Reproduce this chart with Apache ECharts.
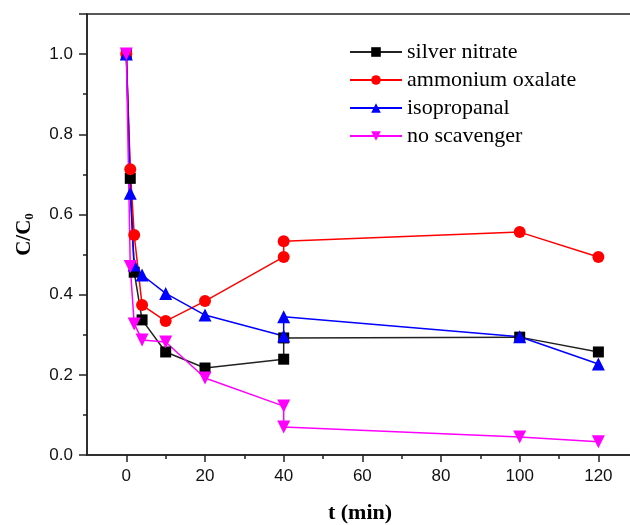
<!DOCTYPE html>
<html>
<head>
<meta charset="utf-8">
<script src="https://cdn.jsdelivr.net/npm/echarts@6/dist/echarts.min.js"></script>
<style>
  html, body { margin: 0; padding: 0; background: #fff; }
  #main { width: 630px; height: 525px; }
</style>
</head>
<body>
<div id="main"></div>
<script>
// sampling times (min), the 40 min point appears twice in every series
var silverT = [0, 1, 2, 4, 10, 20, 40, 40, 100, 120];
var silverV = [1.0, 0.69, 0.456, 0.337, 0.257, 0.217, 0.239, 0.292, 0.294, 0.257];
var oxalateT = [0, 1, 2, 4, 10, 20, 40, 40, 100, 120];
var oxalateV = [1.0, 0.713, 0.549, 0.374, 0.334, 0.384, 0.494, 0.533, 0.556, 0.494];
var isoT = [0, 1, 2, 4, 10, 20, 40, 40, 100, 120];
var isoV = [1.0, 0.653, 0.474, 0.449, 0.403, 0.349, 0.297, 0.345, 0.295, 0.227];
var noneT = [0, 1, 2, 4, 10, 20, 40, 40, 100, 120];
var noneV = [1.0, 0.47, 0.327, 0.287, 0.282, 0.192, 0.122, 0.07, 0.045, 0.033];

var seriesNames = ['silver nitrate', 'ammonium oxalate', 'isopropanal', 'no scavenger'];
var xTicks = [0, 20, 40, 60, 80, 100, 120];
var xMinorTicks = [10, 30, 50, 70, 90, 110];

function pairs(t, v) {
    var out = [];
    for (var i = 0; i < t.length; i++) {
        out.push([t[i], v[i]]);
    }
    return out;
}

var myChart = echarts.init(document.getElementById('main'));
var axisColor = '#222';

myChart.setOption({
    animation: false,
    backgroundColor: '#fff',
    grid: {
        left: 87, right: -3, top: 14, bottom: 70,
        outerBoundsMode: 'none',
        show: true, borderColor: axisColor, borderWidth: 1.5
    },
    legend: {
        data: seriesNames,
        orient: 'vertical',
        left: 344,
        top: 36,
        itemWidth: 52,
        itemHeight: 12,
        itemGap: 6,
        textStyle: { fontFamily: 'Liberation Serif', fontSize: 22, color: '#000' }
    },
    xAxis: [{
        type: 'value',
        min: -10, max: 128.8,
        name: 't (min)',
        nameLocation: 'middle',
        nameGap: 47,
        nameMoveOverlap: false,
        nameTextStyle: { fontFamily: 'Liberation Serif', fontWeight: 'bold', fontSize: 22, color: '#000' },
        splitLine: { show: false },
        axisLine: { onZero: false, lineStyle: { color: axisColor, width: 1.5 } },
        axisTick: { customValues: xTicks, length: 7, lineStyle: { color: axisColor, width: 1.5 } },
        axisLabel: { customValues: xTicks, margin: 13, fontFamily: 'Liberation Sans', fontSize: 17, color: '#111' }
    }, {
        // minor ticks only
        type: 'value',
        position: 'bottom',
        min: -10, max: 128.8,
        splitLine: { show: false },
        axisLine: { show: false, onZero: false },
        axisTick: { customValues: xMinorTicks, length: 4, lineStyle: { color: axisColor, width: 1.5 } },
        axisLabel: { show: false }
    }],
    yAxis: {
        type: 'value',
        min: 0, max: 1.1, interval: 0.2,
        name: 'C/C{s|0}',
        nameLocation: 'middle',
        nameGap: 51,
        nameMoveOverlap: false,
        nameRotate: 90,
        nameTextStyle: {
            fontFamily: 'Liberation Serif', fontWeight: 'bold', fontSize: 21, color: '#000',
            rich: { s: { fontFamily: 'Liberation Serif', fontWeight: 'bold', fontSize: 13, verticalAlign: 'bottom', padding: [10, 0, 0, 0] } }
        },
        splitLine: { show: false },
        axisLine: { onZero: false, lineStyle: { color: axisColor, width: 1.5 } },
        axisTick: { length: 8, lineStyle: { color: axisColor, width: 1.5 } },
        minorTick: { show: true, splitNumber: 2, length: 4, lineStyle: { color: axisColor, width: 1.5 } },
        axisLabel: {
            margin: 14, fontFamily: 'Liberation Sans', fontSize: 17, color: '#111',
            showMaxLabel: false,
            formatter: function (v) { return v.toFixed(1); }
        }
    },
    series: [{
        name: seriesNames[0], type: 'line', data: pairs(silverT, silverV),
        symbol: 'rect', symbolSize: 11, color: '#000',
        lineStyle: { width: 1.5, color: '#222' }
    }, {
        name: seriesNames[1], type: 'line', data: pairs(oxalateT, oxalateV),
        symbol: 'circle', symbolSize: 12, color: '#ff0000',
        lineStyle: { width: 1.5 }
    }, {
        name: seriesNames[2], type: 'line', data: pairs(isoT, isoV),
        symbol: 'triangle', symbolSize: 13, color: '#0000ff',
        lineStyle: { width: 1.5 }
    }, {
        name: seriesNames[3], type: 'line', data: pairs(noneT, noneV),
        symbol: 'triangle', symbolRotate: 180, symbolSize: 13, color: '#ff00ff',
        lineStyle: { width: 1.5 }
    }]
});
</script>
</body>
</html>
